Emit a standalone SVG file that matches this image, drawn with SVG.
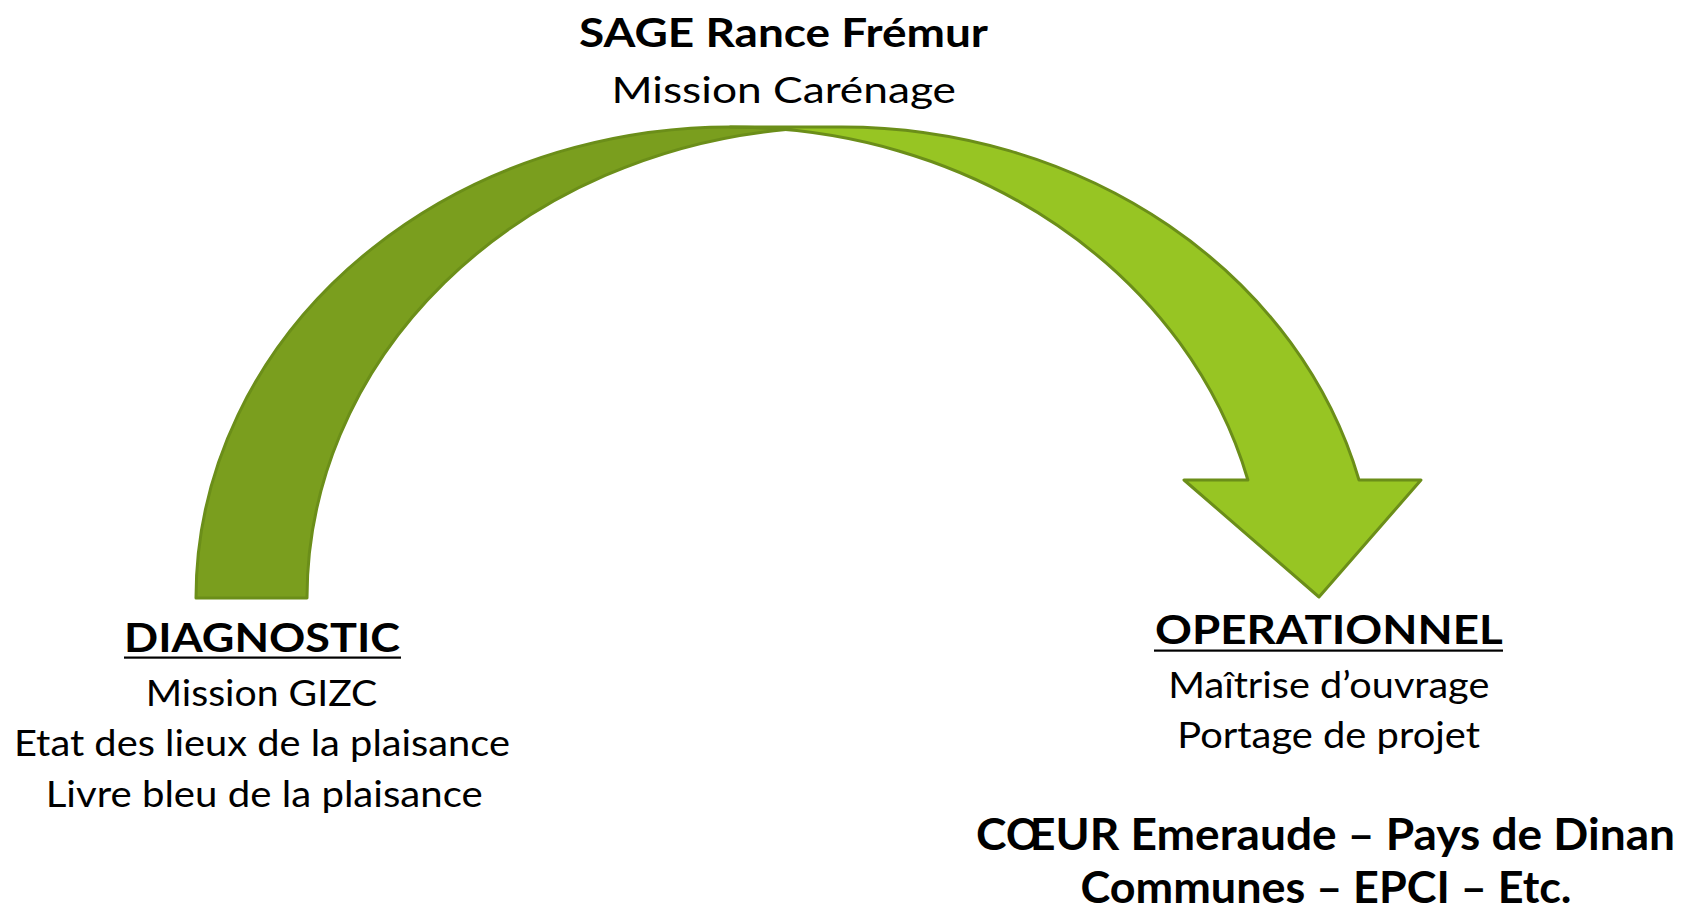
<svg xmlns="http://www.w3.org/2000/svg" width="1681" height="913" viewBox="0 0 1681 913">
  <style>
    .t { font-family: Lato, "Open Sans", "Liberation Sans", sans-serif; fill: #000; }
    .b { font-weight: 700; }
    .hd { font-size: 39.5px; }
    .rg { font-size: 37px; }
    .big { font-size: 44px; }
    .back { fill: #7A9E1E; stroke: #6B8E19; stroke-width: 3; stroke-linejoin: round; }
    .front { fill: #97C523; stroke: #6B8E19; stroke-width: 3; stroke-linejoin: round; }
    .ul { fill: #000; }
  </style>
  <rect width="1681" height="913" fill="#FFFFFF"/>

  <g id="connectors">
    <path id="arrow-back" class="back" d="M196,598 A534.5,471 0 0 1 786,129.5 A534.5,471 0 0 0 307,598 Z"/>
    <path id="arrow-front" class="front" d="M1319,597 L1184,480 L1247.9,480 A534.5,471 0 0 0 730.5,127 L841.5,127 A534.5,471 0 0 1 1359,480 L1421,480 Z"/>
  </g>

  <g id="node-sage">
    <text class="t b hd" x="579" y="47" textLength="409" lengthAdjust="spacingAndGlyphs">SAGE Rance Frémur</text>
    <text class="t rg" x="611.5" y="102.5" textLength="344.5" lengthAdjust="spacingAndGlyphs">Mission Carénage</text>
  </g>

  <g id="node-diagnostic">
    <text class="t b hd" x="124" y="652" textLength="276" lengthAdjust="spacingAndGlyphs">DIAGNOSTIC</text>
    <rect class="ul" x="124" y="656.5" width="277" height="2.2"/>
    <text class="t rg" x="145.7" y="705.5" textLength="231.6" lengthAdjust="spacingAndGlyphs">Mission GIZC</text>
    <text class="t rg" x="14" y="756" textLength="496" lengthAdjust="spacingAndGlyphs">Etat des lieux de la plaisance</text>
    <text class="t rg" x="45.7" y="806.5" textLength="437" lengthAdjust="spacingAndGlyphs">Livre bleu de la plaisance</text>
  </g>

  <g id="node-operationnel">
    <text class="t b hd" x="1155" y="643.5" textLength="347.7" lengthAdjust="spacingAndGlyphs">OPERATIONNEL</text>
    <rect class="ul" x="1154" y="649.5" width="349" height="2.2"/>
    <text class="t rg" x="1168.3" y="697.5" textLength="321" lengthAdjust="spacingAndGlyphs">Maîtrise d’ouvrage</text>
    <text class="t rg" x="1177.3" y="747.5" textLength="302.7" lengthAdjust="spacingAndGlyphs">Portage de projet</text>
  </g>

  <g id="node-acteurs">
    <text class="t b big" x="976" y="850" textLength="699" lengthAdjust="spacingAndGlyphs">CŒUR Emeraude – Pays de Dinan</text>
    <text class="t b big" x="1080.5" y="903" textLength="491" lengthAdjust="spacingAndGlyphs">Communes – EPCI – Etc.</text>
  </g>
</svg>
